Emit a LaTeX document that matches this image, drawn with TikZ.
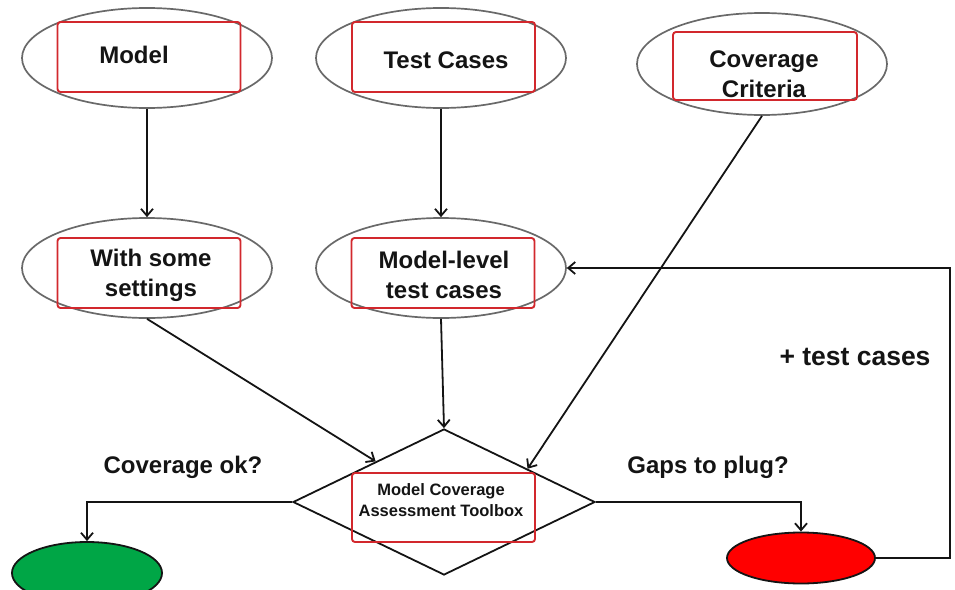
\documentclass[tikz,border=0pt]{standalone}
\usepackage{fontspec}
\setmainfont{Liberation Sans}
\usetikzlibrary{shapes.geometric,arrows.meta,calc}
\definecolor{ellgray}{RGB}{105,105,105}
\definecolor{boxred}{RGB}{210,40,45}
\definecolor{okgreen}{RGB}{0,166,70}
\definecolor{gapred}{RGB}{255,0,0}
\definecolor{ink}{RGB}{20,20,20}
\begin{document}
\begin{tikzpicture}[x=1pt,y=-1pt,
  oval/.style={ellipse, draw=ellgray, line width=1.7pt, minimum width=250pt, minimum height=100pt, inner sep=0pt},
  redbox/.style={draw=boxred, line width=1.9pt, rounded corners=3pt, minimum width=183pt, minimum height=70pt, inner sep=0pt},
  lbl/.style={font=\fontsize{24}{30}\selectfont\bfseries, text=ink, align=center, inner sep=0pt},
  smalllbl/.style={font=\fontsize{16.5}{21}\selectfont\bfseries, text=ink, align=center, inner sep=0pt},
  conn/.style={line width=1.8pt, draw=ink, -{Straight Barb[length=7pt,width=12pt,line width=1.8pt]}},
  endoval/.style={ellipse, draw=ink, line width=1.8pt, inner sep=0pt}
]
\path[use as bounding box] (0,0) rectangle (955,589);
% top row
\node[oval] (m) at (147,58) {};
\node[redbox] (mb) at (149,57) {};
\node[lbl] (mt) at (134,55) {Model};
\node[oval] (tc) at (441,58) {};
\node[redbox] (tcb) at (443.5,57) {};
\node[lbl] (tct) at (446,60) {Test Cases};
\node[oval, minimum width=250pt, minimum height=102pt] (cc) at (762,64) {};
\node[redbox, minimum width=184pt, minimum height=68pt] (ccb) at (765,66) {};
\node[lbl] (cct) at (764,74) {Coverage\\Criteria};
% second row
\node[oval] (ws) at (147,268) {};
\node[redbox] (wsb) at (149,273) {};
\node[lbl] (wst) at (151,275) {With some\\settings};
\node[oval] (ml) at (441,268) {};
\node[redbox] (mlb) at (443,273) {};
\node[lbl] (mlt) at (444,275) {Model-level\\test cases};
% diamond
\node[diamond, draw=ink, line width=1.8pt, minimum width=302pt, minimum height=146pt, inner sep=0pt] (d) at (444,502) {};
\node[redbox, minimum width=183pt, minimum height=69pt] (db) at (443.5,507.5) {};
\node[smalllbl] (dt) at (441,500) {Model Coverage\\Assessment Toolbox};
% outcomes
\node[endoval, fill=okgreen, minimum width=150pt, minimum height=62pt] (ok) at (87,573) {};
\node[endoval, fill=gapred, minimum width=148pt, minimum height=51pt] (r) at (801,558) {};
% labels
\node[lbl] (q1) at (183,467) {Coverage ok?};
\node[lbl] (q2) at (708,467) {Gaps to plug?};
\node[lbl, font=\fontsize{26.5}{30}\selectfont\bfseries] (q3) at (855,357) {+ test cases};
% helper coordinates
\coordinate (dne) at ($(d.north)!0.55!(d.east)$);
\coordinate (dnw) at ($(d.west)!0.55!(d.north)$);
\coordinate (fb) at (950,558);
% connectors
\draw[conn] (m.south) -- (ws.north);
\draw[conn] (tc.south) -- (ml.north);
\draw[conn] (cc.south) -- (dne);
\draw[conn] (ws.south) -- (dnw);
\draw[conn] (ml.south) -- (d.north);
\draw[conn] (d.west) -| (ok.north);
\draw[conn] (d.east) -| (r.north);
\draw[conn] (r.east) -- (fb) |- (ml.east);
\end{tikzpicture}
\end{document}
